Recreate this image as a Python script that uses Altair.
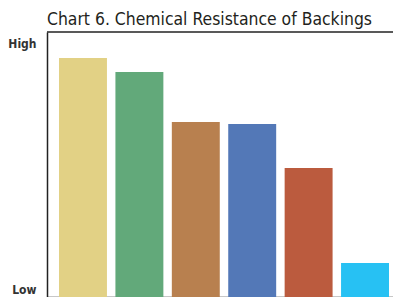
import altair as alt
import pandas as pd

categories = ["A", "B", "C", "D", "E", "F"]
values = [90.2, 84.9, 66.0, 65.3, 48.7, 12.8]
colors = ["#E2D185", "#62A97A", "#B8804F", "#5378B7", "#BB5B3E", "#27C1F3"]
tick_values = [95.8, 3.0]
tick_labels = ["High", "Low"]

df = pd.DataFrame({"cat": categories, "value": values, "color": colors})

label_expr = "datum.value > 50 ? '%s' : '%s'" % (tick_labels[0], tick_labels[1])
FONT = "'DejaVu Sans Condensed', 'Liberation Sans Narrow', Roboto, sans-serif"

bars = alt.Chart(df).mark_bar().encode(
    x=alt.X("cat:N", sort=categories,
            scale=alt.Scale(paddingInner=0.15, paddingOuter=0.142, align=0.75),
            axis=alt.Axis(title=None, labels=False, ticks=False, domain=True,
                          domainColor="#222222", domainWidth=1.5, grid=False)),
    y=alt.Y("value:Q", scale=alt.Scale(domain=[0, 100], nice=False, zero=True),
            axis=alt.Axis(title=None, values=tick_values, labelExpr=label_expr,
                          ticks=False, grid=False, domainColor="#222222", domainWidth=1.5,
                          labelFont=FONT, labelFontWeight="bold",
                          labelFontSize=12, labelColor="#333333", labelPadding=11)),
    color=alt.Color("color:N", scale=None),
)

top_line = alt.Chart(pd.DataFrame({"v": [100]})).mark_rule(
    color="#222222", strokeWidth=1.5
).encode(y="v:Q", x=alt.value(0), x2=alt.value(346))

chart = alt.layer(bars, top_line).properties(
    width=346, height=265,
    autosize=alt.AutoSizeParams(type="none"),
    padding={"left": 39, "top": 24, "right": 0, "bottom": 0},
    title=alt.TitleParams("Chart 6. Chemical Resistance of Backings",
                          anchor="start", frame="group", font=FONT,
                          fontSize=17.4, fontWeight="normal", color="#231F20", offset=3),
).configure_view(stroke=None)

chart.save("out.html", embed_options={"renderer": "svg", "actions": False})
